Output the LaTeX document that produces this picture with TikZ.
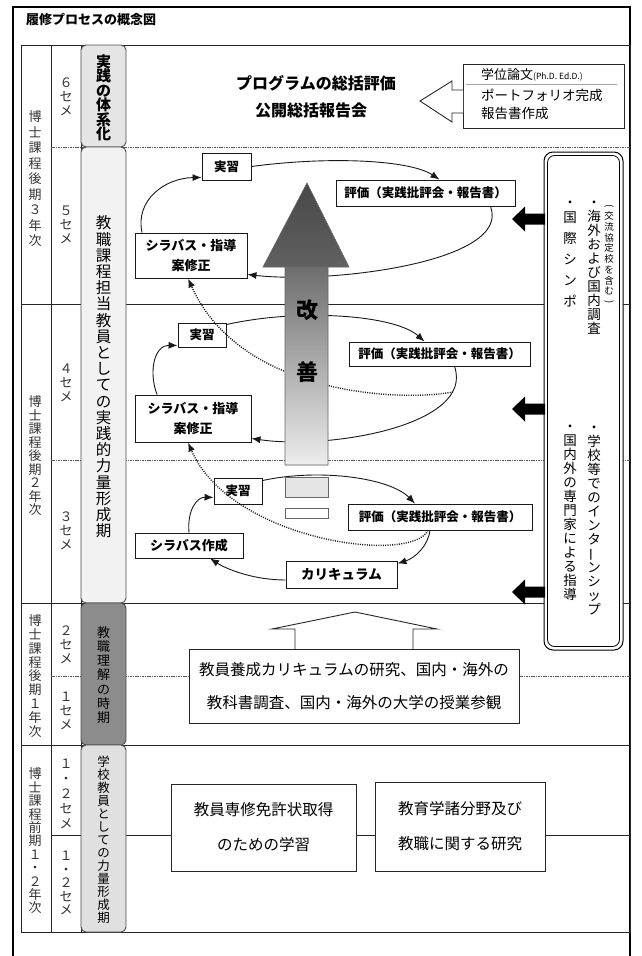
\documentclass[tikz,border=0pt]{standalone}
\usepackage{fontspec}
\setmainfont{Noto Sans CJK JP}
\usepackage{graphicx}
\usetikzlibrary{arrows.meta}
\tikzset{
  frame/.style={draw=black, line width=1.6pt},
  tline/.style={draw=black!85, line width=0.9pt},
  dline/.style={draw=black!65, line width=0.9pt, dash pattern=on 1.6pt off 0.8pt},
  phase/.style={draw=black!70, line width=0.9pt, rounded corners=5pt},
  vlab/.style={align=center, inner sep=0pt, text=black!80, execute at begin node={\lineskiplimit=-100pt\lineskip=0pt}},
  cbox/.style={draw=black!90, line width=0.9pt, fill=white, inner sep=1pt, align=center, font=\fontsize{12.5}{20}\selectfont\bfseries},
  cyc/.style={draw=black!90, line width=0.9pt, -{Latex[length=9pt,width=7pt]}},
  dotarr/.style={draw=black!90, line width=1.4pt, dash pattern=on 1pt off 1.3pt, -{Latex[length=9pt,width=7pt]}},
  bbox/.style={draw=black!85, line width=0.9pt, fill=white, align=center, inner sep=0pt},
  blockarr/.style={draw=black!85, line width=0.9pt, fill=white},
  sidearr/.style={fill=black},
}
\newcommand{\vbar}{\rotatebox[origin=c]{90}{ー}}
\begin{document}
\lineskiplimit=-100pt
\begin{tikzpicture}[x=1pt,y=-1pt]
\useasboundingbox (0,0) rectangle (641,956);
\fill[white] (0,0) rectangle (641,956);

% outer frame and title
\draw[frame] (13,956) -- (13,7) -- (630,7) -- (630,956);
\node[anchor=west, inner sep=0pt, font=\fontsize{13}{13}\selectfont\bfseries] (title) at (26,19) {履修プロセスの概念図};

% table grid
\draw[tline] (21,45) rectangle (630,932);
\draw[tline] (51,45) -- (51,932);
\draw[tline] (81,45) -- (81,932);
\foreach \yy in {304,603,745} \draw[tline] (21,\yy) -- (630,\yy);
\foreach \yy in {147,460,676} \draw[dline] (51,\yy) -- (630,\yy);
\draw[tline] (51,835) -- (630,835);

% column 1 labels
\node[vlab, font=\fontsize{13}{15.5}\selectfont] (yr3) at (35,179) {博\\士\\課\\程\\後\\期\\３\\年\\次};
\node[vlab, font=\fontsize{13}{13.5}\selectfont] (yr2) at (35,456) {博\\士\\課\\程\\後\\期\\２\\年\\次};
\node[vlab, font=\fontsize{13}{13.8}\selectfont] (yr1) at (35,676) {博\\士\\課\\程\\後\\期\\１\\年\\次};
\node[vlab, font=\fontsize{13}{13.4}\selectfont] (yr0) at (35,841) {博\\士\\課\\程\\前\\期\\１\\・\\２\\年\\次};

% column 2 labels
\node[vlab, font=\fontsize{13}{14}\selectfont] (s6) at (66,97) {６\\セ\\メ};
\node[vlab, font=\fontsize{13}{14}\selectfont] (s5l) at (66,225) {５\\セ\\メ};
\node[vlab, font=\fontsize{13}{14}\selectfont] (s4l) at (66,383) {４\\セ\\メ};
\node[vlab, font=\fontsize{13}{14}\selectfont] (s3l) at (66,531) {３\\セ\\メ};
\node[vlab, font=\fontsize{13}{14}\selectfont] (s2l) at (66,645) {２\\セ\\メ};
\node[vlab, font=\fontsize{13}{14}\selectfont] (s1l) at (66,711) {１\\セ\\メ};
\node[vlab, font=\fontsize{13}{15}\selectfont] (s12a) at (66,794) {１\\・\\２\\セ\\メ};
\node[vlab, font=\fontsize{13}{13.5}\selectfont] (s12b) at (66,883) {１\\・\\２\\セ\\メ};

% column 3 phase boxes
\draw[phase, fill=black!10] (81,45) rectangle (126,147);
\draw[phase, fill=black!5] (81,147) rectangle (126,603);
\draw[phase, fill=black!45] (81,603) rectangle (126,745);
\draw[phase, fill=black!12] (81,745) rectangle (126,932);
\node[vlab, text=black, font=\fontsize{15}{14.5}\selectfont\bfseries] (ph1) at (103.5,98) {実\\践\\の\\体\\系\\化};
\node[vlab, text=black, font=\fontsize{15.5}{16.2}\selectfont] (ph2) at (103.5,377) {教\\職\\課\\程\\担\\当\\教\\員\\と\\し\\て\\の\\実\\践\\的\\力\\量\\形\\成\\期};
\node[vlab, text=black, font=\fontsize{13}{14.2}\selectfont] (ph3) at (103.5,675) {教\\職\\理\\解\\の\\時\\期};
\node[vlab, text=black, font=\fontsize{12.5}{13}\selectfont] (ph4) at (103.5,840) {学\\校\\教\\員\\と\\し\\て\\の\\力\\量\\形\\成\\期};

% row 6 content
\node[inner sep=0pt, font=\fontsize{16}{16}\selectfont\bfseries] (pg1) at (316,83) {プログラムの総括評価};
\node[inner sep=0pt, font=\fontsize{16}{16}\selectfont\bfseries] (pg2) at (311,110) {公開総括報告会};
\node[bbox, minimum width=161pt, minimum height=64pt, anchor=north west] (rep) at (463,64) {};
\draw[black!35, line width=0.6pt] (466,84) -- (617,84);
\node[anchor=west, inner sep=0pt, font=\fontsize{13}{13}\selectfont] (rt1) at (481,75) {学位論文{\fontsize{8.5}{10}\selectfont(Ph.D. Ed.D.)}};
\node[anchor=west, inner sep=0pt, font=\fontsize{13.5}{13}\selectfont] (rt2) at (481,95) {ポートフォリオ完成};
\node[anchor=west, inner sep=0pt, font=\fontsize{13.5}{13}\selectfont] (rt3) at (481,113) {報告書作成};
\draw[blockarr] (463,90) -- (452,90) -- (452,81) -- (420,101) -- (452,122) -- (452,113) -- (463,113);

% cycle boxes
\node[cbox, minimum width=49pt, minimum height=27pt] (j5) at (226.5,166.5) {実習};
\node[cbox, minimum width=179pt, minimum height=26pt] (h5) at (425.5,193) {評価（実践批評会・報告書）};
\node[cbox, minimum width=112pt, minimum height=45pt, font=\fontsize{13}{20}\selectfont\bfseries] (s5) at (191,255.5) {シラバス・指導\\案修正};
\node[cbox, minimum width=48pt, minimum height=24pt] (j4) at (202,335) {実習};
\node[cbox, minimum width=181pt, minimum height=24pt] (h4) at (439.5,354) {評価（実践批評会・報告書）};
\node[cbox, minimum width=116pt, minimum height=47pt, font=\fontsize{13}{20}\selectfont\bfseries] (s4) at (193,418.5) {シラバス・指導\\案修正};
\node[cbox, minimum width=48pt, minimum height=26pt] (j3) at (238,491) {実習};
\node[cbox, minimum width=184pt, minimum height=26pt] (h3) at (440,517) {評価（実践批評会・報告書）};
\node[cbox, minimum width=108pt, minimum height=25pt, font=\fontsize{13}{13}\selectfont\bfseries] (s3) at (189,545.5) {シラバス作成};
\node[cbox, minimum width=111pt, minimum height=27pt, font=\fontsize{13.5}{13}\selectfont\bfseries] (k3) at (341.5,574.5) {カリキュラム};

% cycle arrows (row 5)
\draw[cyc] (j5.east) .. controls (330,156) and (410,160) .. ([xshift=14pt]h5.north);
\draw[cyc] ([xshift=65pt]h5.south) .. controls (512,262) and (330,284) .. ([yshift=4pt]s5.south east);
\draw[cyc] ([xshift=-49pt]s5.north) .. controls (135,200) and (165,178) .. ([yshift=3pt]j5.south west);
% row 4
\draw[cyc] ([yshift=-2pt]j4.north east) .. controls (300,308) and (395,315) .. ([xshift=-15pt]h4.north);
\draw[cyc] ([xshift=15pt]h4.south) .. controls (475,425) and (330,450) .. ([yshift=4pt]s4.south east);
\draw[cyc] ([xshift=-36pt]s4.north) .. controls (148,370) and (155,345) .. ([yshift=2pt]j4.south west);
% row 3
\draw[cyc] ([yshift=-3pt]j3.north east) .. controls (320,468) and (390,478) .. ([xshift=-25pt]h3.north);
\draw[cyc] ([xshift=-10pt]h3.south) .. controls (428,546) and (415,558) .. ([yshift=-3pt]k3.north east);
\draw[cyc] ([yshift=-5.5pt]k3.west) .. controls (255,580) and (228,570) .. ([xshift=21pt]s3.south);
\draw[cyc] (s3.north) .. controls (187,510) and (197,497) .. ([yshift=7pt]j3.south west);

% dotted feedback arrows
\coordinate (d2s) at (453,392);
\draw[dotarr] ([xshift=-12pt]h3.south) .. controls (410,565) and (230,540) .. ([xshift=-5pt]s4.south);
\draw[dotarr] (d2s) .. controls (400,402) and (240,395) .. ([xshift=-3pt]s5.south);

% big improvement arrow
\shade[top color=black!72, bottom color=black!62] (307,183) -- (349,267) -- (263,267) -- cycle;
\shade[top color=black!57, bottom color=black!7] (285,267) rectangle (328,465);
\draw[black!60, line width=0.6pt] (307,183) -- (349,267) -- (328,267) -- (328,465) -- (285,465) -- (285,267) -- (263,267) -- cycle;
\draw[black!60, line width=0.6pt, fill=black!10] (285,477) rectangle (328,497);
\draw[black!60, line width=0.6pt, fill=white] (285,508) rectangle (328,518);
\node[inner sep=0pt, font=\fontsize{22}{22}\selectfont\bfseries] (kai) at (307,310) {改};
\node[inner sep=0pt, font=\fontsize{22}{22}\selectfont\bfseries] (zen) at (307,372) {善};

% right support box
\draw[fill=white, line width=1pt, rounded corners=9pt] (544,152) rectangle (623,650);
\draw[line width=0.8pt, rounded corners=7pt] (547.5,155.5) rectangle (619.5,646.5);
\node[vlab, text=black, font=\fontsize{9.5}{10.7}\selectfont] (rk1) at (609,255) {\rotatebox[origin=c]{-90}{(}\\交\\流\\協\\定\\校\\を\\含\\む\\\rotatebox[origin=c]{-90}{)}};
\node[vlab, text=black, font=\fontsize{13.5}{14}\selectfont] (rk2) at (594,268) {・\\海\\外\\お\\よ\\び\\国\\内\\調\\査};
\node[vlab, text=black, font=\fontsize{13.5}{21}\selectfont] (rk3) at (570,254) {・\\[-6pt]国\\際\\シ\\ン\\ポ};
\node[vlab, text=black, font=\fontsize{13.5}{14}\selectfont] (rk4) at (594,520) {・\\学\\校\\等\\で\\の\\イ\\ン\\タ\\\vbar\\ン\\シ\\ッ\\プ};
\node[vlab, text=black, font=\fontsize{13.5}{14}\selectfont] (rk5) at (570,513) {・\\国\\内\\外\\の\\専\\門\\家\\に\\よ\\る\\指\\導};
\foreach \yy in {219,409,592}
  \fill[sidearr] (545,\yy-5.5) -- (525,\yy-5.5) -- (525,\yy-12.5) -- (512,\yy) -- (525,\yy+12.5) -- (525,\yy+5.5) -- (545,\yy+5.5) -- cycle;

% bottom block arrow and boxes
\draw[blockarr] (295,649) -- (295,629) -- (272,629) -- (355,612) -- (437,629) -- (413,629) -- (413,649);
\node[bbox, minimum width=330pt, minimum height=74pt, font=\fontsize{15.5}{33}\selectfont] (cur) at (354,686) {教員養成カリキュラムの研究、国内・海外の\\教科書調査、国内・海外の大学の授業参観};
\node[bbox, minimum width=185pt, minimum height=87pt, font=\fontsize{15.5}{35}\selectfont] (b1) at (263.5,827.5) {教員専修免許状取得\\のための学習};
\node[bbox, minimum width=170pt, minimum height=89pt, font=\fontsize{15.5}{35}\selectfont] (b2) at (460,826.5) {教育学諸分野及び\\教職に関する研究};
\end{tikzpicture}
\end{document}
